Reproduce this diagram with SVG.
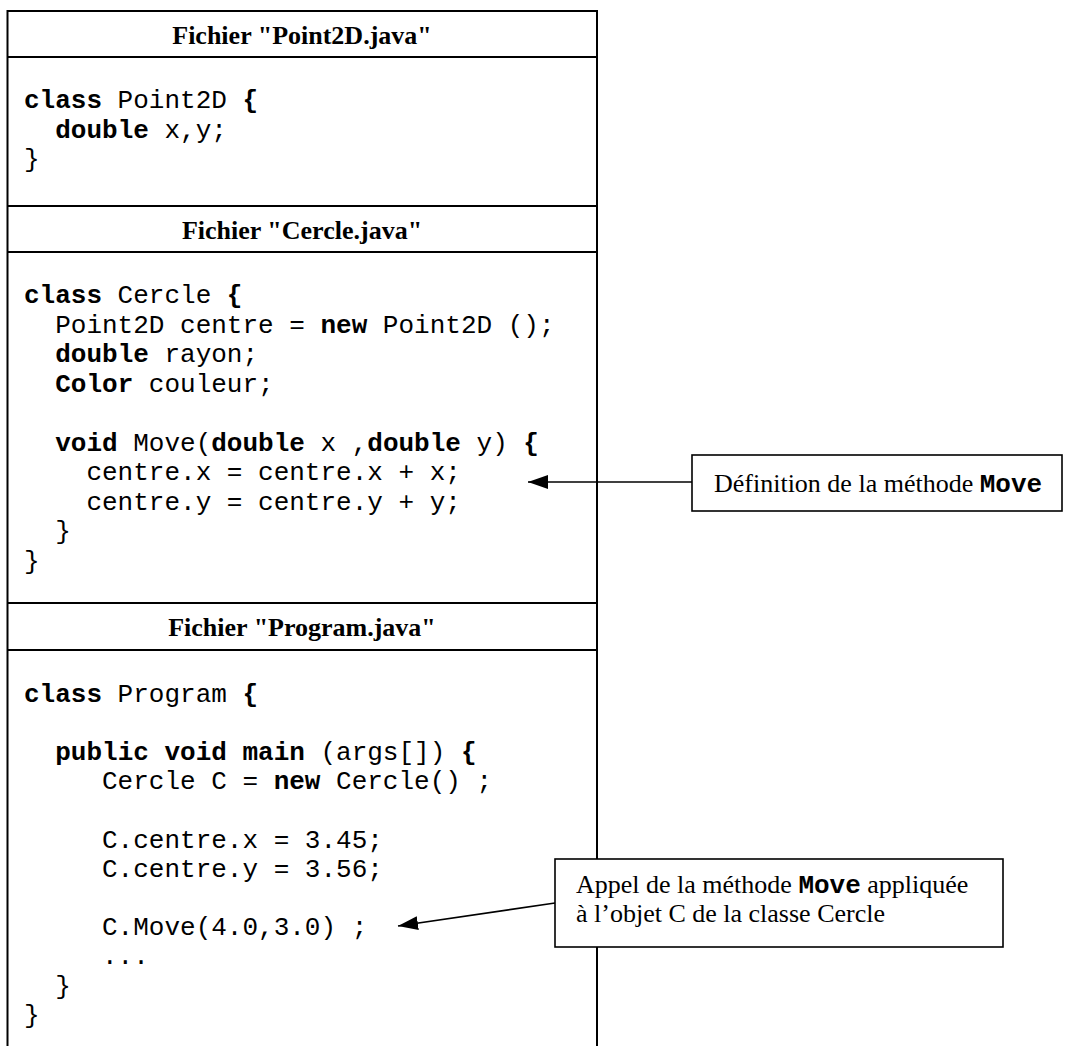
<svg xmlns="http://www.w3.org/2000/svg" width="1073" height="1046" viewBox="0 0 1073 1046">
<style>
.frame{fill:none;stroke:#000;stroke-width:2}
.box{fill:#fff;stroke:#000;stroke-width:1.6}
.conn{stroke:#000;stroke-width:1.6;fill:none}
.hdr{font-family:"Liberation Serif","Times New Roman",serif;font-weight:bold;font-size:26px;text-anchor:middle;fill:#000}
.code{font-family:"Liberation Mono","Courier New",monospace;font-size:26px;fill:#000;white-space:pre}
.kw{font-weight:bold}
.note{font-family:"Liberation Serif","Times New Roman",serif;font-size:26px;fill:#000}
.mono{font-family:"Liberation Mono","Courier New",monospace;font-weight:bold}
</style>
<defs>
<marker id="ah" viewBox="0 0 20 14" refX="20" refY="7" markerWidth="20" markerHeight="14" markerUnits="userSpaceOnUse" orient="auto">
<path d="M0,0 L20,7 L0,14 z" fill="#000"/>
</marker>
</defs>
<rect width="1073" height="1046" fill="#fff"/>
<g id="point2d">
<path class="frame" d="M7.5,1046 V11 H597 V1046"/>
<line class="frame" x1="7.5" y1="57" x2="597" y2="57"/>
<text class="hdr" x="302" y="44">Fichier "Point2D.java"</text>
<text class="code" xml:space="preserve"><tspan x="24" y="108"><tspan class="kw">class</tspan> Point2D <tspan class="kw">{</tspan></tspan><tspan x="24" y="138">  <tspan class="kw">double</tspan> x,y;</tspan><tspan x="24" y="167">}</tspan></text>
</g>
<g id="cercle">
<line class="frame" x1="7.5" y1="206" x2="597" y2="206"/>
<line class="frame" x1="7.5" y1="252" x2="597" y2="252"/>
<text class="hdr" x="302" y="239">Fichier "Cercle.java"</text>
<text class="code" xml:space="preserve"><tspan x="24" y="303"><tspan class="kw">class</tspan> Cercle <tspan class="kw">{</tspan></tspan><tspan x="24" y="333">  Point2D centre = <tspan class="kw">new</tspan> Point2D ();</tspan><tspan x="24" y="362">  <tspan class="kw">double</tspan> rayon;</tspan><tspan x="24" y="392">  <tspan class="kw">Color</tspan> couleur;</tspan><tspan x="24" y="451">  <tspan class="kw">void</tspan> Move(<tspan class="kw">double</tspan> x ,<tspan class="kw">double</tspan> y) <tspan class="kw">{</tspan></tspan><tspan x="24" y="480">    centre.x = centre.x + x;</tspan><tspan x="24" y="510">    centre.y = centre.y + y;</tspan><tspan x="24" y="539">  }</tspan><tspan x="24" y="569">}</tspan></text>
</g>
<g id="program">
<line class="frame" x1="7.5" y1="603" x2="597" y2="603"/>
<line class="frame" x1="7.5" y1="650" x2="597" y2="650"/>
<text class="hdr" x="302" y="636">Fichier "Program.java"</text>
<text class="code" xml:space="preserve"><tspan x="24" y="702"><tspan class="kw">class</tspan> Program <tspan class="kw">{</tspan></tspan><tspan x="24" y="760">  <tspan class="kw">public void main</tspan> (args[]) <tspan class="kw">{</tspan></tspan><tspan x="24" y="789">     Cercle C = <tspan class="kw">new</tspan> Cercle() ;</tspan><tspan x="24" y="848">     C.centre.x = 3.45;</tspan><tspan x="24" y="877">     C.centre.y = 3.56;</tspan><tspan x="24" y="935">     C.Move(4.0,3.0) ;</tspan><tspan x="24" y="964">     ...</tspan><tspan x="24" y="994">  }</tspan><tspan x="24" y="1023">}</tspan></text>
</g>
<g id="connectors">
<line class="conn" x1="692" y1="482" x2="528" y2="482" marker-end="url(#ah)"/>
<line class="conn" x1="555" y1="903" x2="398" y2="926" marker-end="url(#ah)"/>
</g>
<g id="note-move-def">
<rect class="box" x="692" y="455" width="370" height="56"/>
<text class="note" x="714" y="492">Définition de la méthode <tspan class="mono">Move</tspan></text>
</g>
<g id="note-move-call">
<rect class="box" x="555" y="859" width="448" height="88"/>
<text class="note" x="576" y="893">Appel de la méthode <tspan class="mono">Move</tspan> appliquée</text>
<text class="note" x="576" y="922">à l’objet C de la classe Cercle</text>
</g>
</svg>
